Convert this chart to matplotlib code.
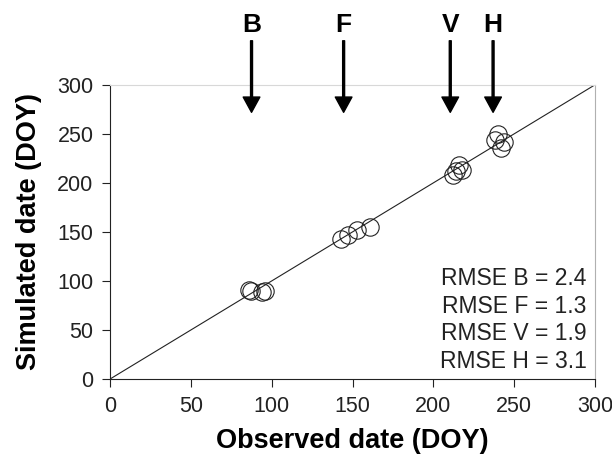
import matplotlib.pyplot as plt
import numpy as np

plt.rcParams["font.family"] = ["Liberation Sans", "DejaVu Sans"]

# observed vs simulated dates (DOY) for each phenological stage
obs_B = [86, 87, 94, 96]
sim_B = [91, 90, 89, 90]
obs_F = [143, 147, 153, 161]
sim_F = [143, 147, 152, 155]
obs_V = [212, 214, 216, 218]
sim_V = [208, 212, 218, 213]
obs_H = [240, 238, 244, 242]
sim_H = [250, 244, 242, 236]

stage_labels = ["B", "F", "V", "H"]
stage_pos = [87.5, 144.5, 210.5, 237]

rmse_labels = ["RMSE B = 2.4", "RMSE F = 1.3", "RMSE V = 1.9", "RMSE H = 3.1"]

ticks = [0, 50, 100, 150, 200, 250, 300]

fig = plt.figure(figsize=(6.12, 4.69), dpi=100)
ax = fig.add_axes([0.18, 0.192, 0.792, 0.627])

# 1:1 line
ax.plot([0, 300], [0, 300], color="#222222", lw=0.8, zorder=2)

obs = np.concatenate([obs_B, obs_F, obs_V, obs_H])
sim = np.concatenate([sim_B, sim_F, sim_V, sim_H])
ax.plot(obs, sim, linestyle="none", marker="o", markersize=12.5,
        markerfacecolor="none", markeredgecolor="#222222",
        markeredgewidth=0.8, zorder=3)

ax.set_xlim(0, 300)
ax.set_ylim(0, 300)
ax.set_xticks(ticks)
ax.set_yticks(ticks)
ax.tick_params(direction="out", length=6, width=0.8, labelsize=15.5,
               pad=6, colors="#222222")

ax.spines["left"].set_color("#222222")
ax.spines["bottom"].set_color("#222222")
ax.spines["top"].set_color("#d8d8d8")
ax.spines["right"].set_color("#b0b0b0")
for s in ax.spines.values():
    s.set_linewidth(0.8)

ax.set_xlabel("Observed date (DOY)", fontsize=19.5, fontweight="bold",
              labelpad=8)
ax.set_ylabel("Simulated date (DOY)", fontsize=19.5, fontweight="bold",
              labelpad=11)

# stage arrows above the axes
for lab, xp in zip(stage_labels, stage_pos):
    ax.annotate("", xy=(xp, 272), xytext=(xp, 345),
                arrowprops=dict(width=1.4, headwidth=12, headlength=11,
                                shrink=0, color="black"),
                annotation_clip=False)
    ax.text(xp, 361, lab, ha="center", va="center", fontsize=19,
            fontweight="bold", clip_on=False)

for i, txt in enumerate(rmse_labels):
    ax.text(295, 102 - i * 28, txt, ha="right", va="center", fontsize=16.5,
            color="#222222")

fig.savefig("out.png", dpi=100)
